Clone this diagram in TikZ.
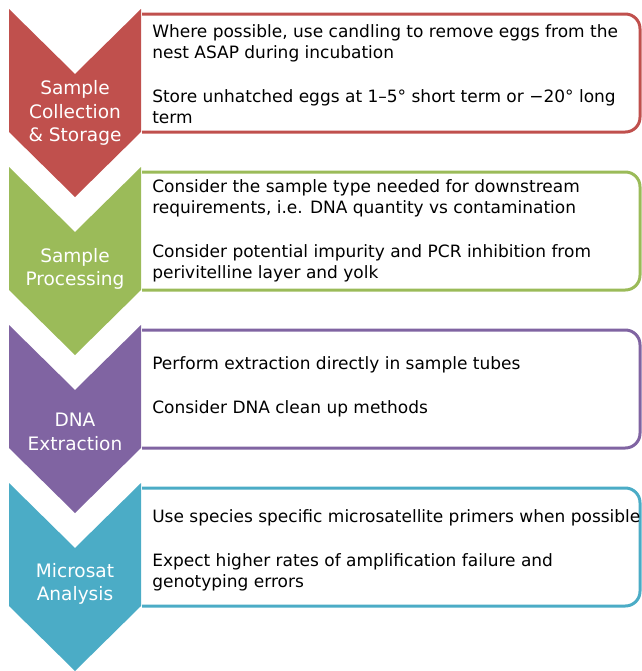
\documentclass[tikz,border=0pt]{standalone}
\usepackage{xcolor}
\usepackage{fontspec}
\setmainfont{DejaVu Sans}
\usepackage{tikz}

\definecolor{stagered}{RGB}{192,80,77}
\definecolor{stagegreen}{RGB}{155,187,89}
\definecolor{stagepurple}{RGB}{128,100,162}
\definecolor{stageblue}{RGB}{75,172,198}

\begin{document}
\begin{tikzpicture}[x=0.75pt,y=0.75pt,yscale=-1,xscale=1,
        stagelabel/.style={text=white,align=center,inner sep=0pt,font=\fontsize{13.9}{17.6}\selectfont},
        notetext/.style={anchor=west,align=left,inner sep=0pt,font=\fontsize{12.75}{15.75}\selectfont},
        notebox/.style={line width=2.25pt,fill=white,rounded corners=11pt}]
        \useasboundingbox (0,0) rectangle (642,671);

        % boxes
        \draw [notebox, draw=stagered]    (142,14) -- (640,14) -- (640,132) -- (142,132) ;
        \draw [notebox, draw=stagegreen]  (142,172) -- (640,172) -- (640,290) -- (142,290) ;
        \draw [notebox, draw=stagepurple] (142,330) -- (640,330) -- (640,448) -- (142,448) ;
        \draw [notebox, draw=stageblue]   (142,488) -- (640,488) -- (640,606) -- (142,606) ;

        % chevrons
        \fill [stagered]    (9,9) -- (75,74) -- (141,9) -- (141,132) -- (75,197) -- (9,132) -- cycle ;
        \fill [stagegreen]  (9,167) -- (75,232) -- (141,167) -- (141,290) -- (75,355) -- (9,290) -- cycle ;
        \fill [stagepurple] (9,325) -- (75,390) -- (141,325) -- (141,448) -- (75,513) -- (9,448) -- cycle ;
        \fill [stageblue]   (9,483) -- (75,548) -- (141,483) -- (141,606) -- (75,671) -- (9,606) -- cycle ;

        \node [stagelabel] (collect) at (75,113) {Sample\\Collection\\\& Storage};
        \node [stagelabel] (process) at (75,269) {Sample\\Processing};
        \node [stagelabel] (extract) at (75,432) {DNA\\Extraction};
        \node [stagelabel] (analyse) at (75,584) {Microsat\\Analysis};

        \node [notetext] (collectnote) at (152,74) {Where possible, use candling to remove eggs from the\\nest ASAP during incubation\\[17pt]Store unhatched eggs at 1–5° short term or −20° long\\term};
        \node [notetext] (processnote) at (152,231) {Consider the sample type needed for downstream\\requirements, i.e. DNA quantity vs contamination\\[17pt]Consider potential impurity and PCR inhibition from\\perivitelline layer and yolk};
        \node [notetext] (extractnote) at (152,387) {Perform extraction directly in sample tubes\\[17pt]Consider DNA clean up methods};
        \node [notetext] (analysenote) at (152,550) {Use species specific microsatellite primers when possible\\[17pt]Expect higher rates of amplification failure and\\genotyping errors};
\end{tikzpicture}
\end{document}
